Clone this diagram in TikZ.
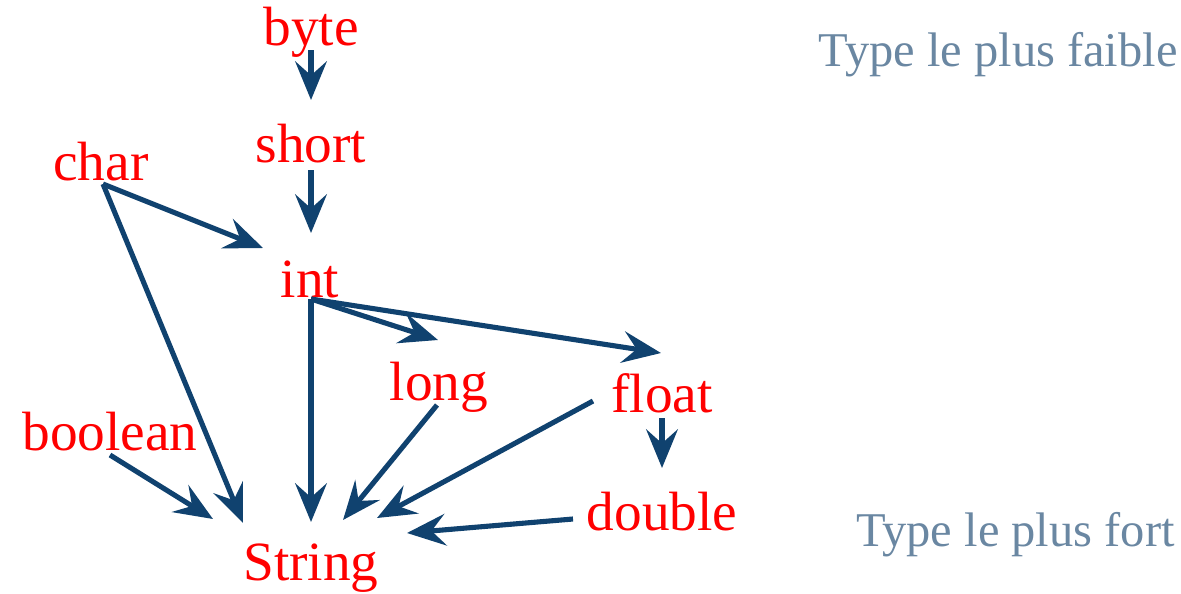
\documentclass[tikz,border=0pt]{standalone}
\usepackage{fontspec}
\setmainfont{Liberation Serif}
\usetikzlibrary{arrows.meta}
\definecolor{typered}{HTML}{FF0000}
\definecolor{convblue}{HTML}{10426F}
\definecolor{notegrey}{HTML}{6A87A2}
\tikzset{
  typename/.style={text=typered, font=\fontsize{31.5}{36}\selectfont, inner sep=0pt, anchor=base},
  rank/.style={text=notegrey, font=\fontsize{27.6}{32}\selectfont, inner sep=0pt, anchor=base},
  conv/.style={draw=convblue, line width=2.9pt,
    -{Stealth[length=22pt, width=18pt, inset=8pt]}},
}
\begin{document}
\begin{tikzpicture}[x=0.02cm, y=-0.02cm]
\useasboundingbox (0,0) rectangle (1181,593);

% type names
\node[typename] (byte)    at (311,45)  {byte};
\node[typename] (short)   at (311,162) {short};
\node[typename] (char)    at (101,180) {char};
\node[typename] (int)     at (310,297) {int};
\node[typename] (long)    at (439,400) {long};
\node[typename] (float)   at (662,412) {float};
\node[typename] (boolean) at (110,450) {boolean};
\node[typename] (double)  at (662,530) {double};
\node[typename] (String)  at (311,580) {String};

% ranking notes
\node[rank, anchor=base east] (weak)   at (1178,66)  {Type le plus faible};
\node[rank, anchor=base east] (strong) at (1175,546) {Type le plus fort};

% attachment points of the conversions
\coordinate (byte-o)   at (311,50);
\coordinate (short-i)  at (311,100);
\coordinate (short-o)  at (311,170);
\coordinate (int-i)    at (311,233);
\coordinate (char-o)   at (103,184);
\coordinate (int-w)    at (263,248);
\coordinate (int-o)    at (311,299);
\coordinate (long-i)   at (438,340);
\coordinate (float-i)  at (661,353);
\coordinate (long-o)   at (437,405);
\coordinate (float-o)  at (593,401);
\coordinate (float-s)  at (662,418);
\coordinate (double-i) at (662,468);
\coordinate (bool-o)   at (110,455);
\coordinate (double-o) at (573,519);
\coordinate (str-a)    at (243,523);
\coordinate (str-b)    at (213,519);
\coordinate (str-c)    at (311,522);
\coordinate (str-d)    at (343,520);
\coordinate (str-e)    at (377,518);
\coordinate (str-f)    at (407,533);

% widening conversions
\draw[conv] (byte-o) -- (short-i);
\draw[conv] (short-o) -- (int-i);
\draw[conv] (char-o) -- (int-w);
\draw[conv] (char-o) -- (str-a);
\draw[conv] (int-o) -- (long-i);
\draw[conv] (int-o) -- (float-i);
\draw[conv] (int-o) -- (str-c);
\draw[conv] (long-o) -- (str-d);
\draw[conv] (float-o) -- (str-e);
\draw[conv] (float-s) -- (double-i);
\draw[conv] (bool-o) -- (str-b);
\draw[conv] (double-o) -- (str-f);
\end{tikzpicture}
\end{document}
